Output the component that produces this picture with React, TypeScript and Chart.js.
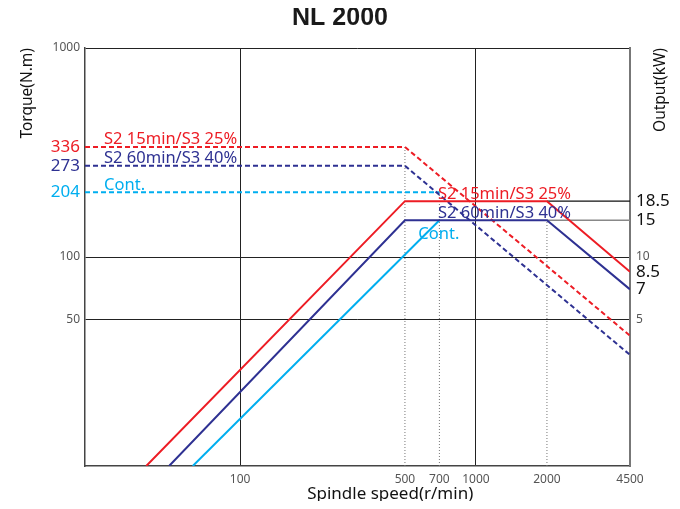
import React, { useEffect, useRef } from 'react';
import { Chart, registerables } from 'chart.js';

Chart.register(...registerables);

const RED = '#ED1C24';
const NAVY = '#2E3192';
const CYAN = '#00AEEF';
const FONT = '"Noto Sans", "DejaVu Sans", sans-serif';

// axis ticks
const speedTicks = [100, 500, 700, 1000, 2000, 4500];
const torqueTicks = [50, 100, 204, 273, 336, 1000];
const outputTicks = [5, 7, 8.5, 10, 15, 18.5];

// torque curves (N.m) vs spindle speed (r/min)
const s2_15TorqueSpeed = [22, 500, 4500];
const s2_15Torque = [336, 336, 42];
const s2_60TorqueSpeed = [22, 500, 4500];
const s2_60Torque = [273, 273, 34];
const contTorqueSpeed = [22, 700];
const contTorque = [204, 204];

// output curves (kW) vs spindle speed (r/min)
const s2_15PowerSpeed = [40, 500, 2000, 4500];
const s2_15Power = [1, 18.5, 18.5, 8.5];
const s2_60PowerSpeed = [50, 500, 2000, 4500];
const s2_60Power = [1, 15, 15, 7];
const contPowerSpeed = [63, 700];
const contPower = [1, 15];

const pts = (xs: number[], ys: number[]) => xs.map((x, i) => ({ x, y: ys[i] }));

const tickColorLeft: Record<number, string> = { 204: CYAN, 273: NAVY, 336: RED };
const bigRight = [7, 8.5, 15, 18.5];

type Lbl = { text: string; x: number; y: number; axis: string; color: string; align: CanvasTextAlign; base: CanvasTextBaseline; dy: number; size: number };
const curveLabels: Lbl[] = [
  { text: 'S2 15min/S3 25%', x: 26.5, y: 336, axis: 'y', color: RED, align: 'left', base: 'bottom', dy: 1, size: 16.5 },
  { text: 'S2 60min/S3 40%', x: 26.5, y: 273, axis: 'y', color: NAVY, align: 'left', base: 'bottom', dy: 1, size: 16.5 },
  { text: 'Cont.', x: 26.5, y: 204, axis: 'y', color: CYAN, align: 'left', base: 'bottom', dy: 1, size: 16.5 },
  { text: 'S2 15min/S3 25%', x: 690, y: 18.5, axis: 'y2', color: RED, align: 'left', base: 'bottom', dy: 1, size: 16.5 },
  { text: 'S2 60min/S3 40%', x: 690, y: 15, axis: 'y2', color: NAVY, align: 'left', base: 'bottom', dy: 1, size: 16.5 },
  { text: 'Cont.', x: 570, y: 15, axis: 'y2', color: CYAN, align: 'left', base: 'top', dy: 6, size: 16.5 },
];

const textPlugin = {
  id: 'texts',
  afterDraw(chart: any) {
    const { ctx, scales, chartArea } = chart;
    ctx.save();
    curveLabels.forEach((l) => {
      const px = scales.x.getPixelForValue(l.x);
      const py = scales[l.axis].getPixelForValue(l.y) + l.dy;
      ctx.font = `${l.size}px ${FONT}`;
      ctx.fillStyle = l.color;
      ctx.textAlign = l.align;
      ctx.textBaseline = l.base;
      ctx.fillText(l.text, px, py);
    });
    // axis titles
    ctx.fillStyle = '#111';
    ctx.font = `17px ${FONT}`;
    ctx.textAlign = 'center';
    ctx.textBaseline = 'middle';
    ctx.fillText('Spindle speed(r/min)', chartArea.left + (chartArea.right - chartArea.left) * 0.56, chart.height - 7);
    ctx.font = `15.5px ${FONT}`;
    const vtitle = (text: string, x: number) => {
      ctx.save();
      ctx.translate(x, chartArea.top);
      ctx.rotate(-Math.PI / 2);
      ctx.textAlign = 'right';
      ctx.textBaseline = 'middle';
      ctx.fillText(text, 0, 0);
      ctx.restore();
    };
    vtitle('Torque(N.m)', 20);
    vtitle('Output(kW)', chart.width - 11);
    ctx.restore();
  },
};

export default function App() {
  const ref = useRef<HTMLCanvasElement | null>(null);
  useEffect(() => {
    if (!ref.current) return;
    const line = (data: any[], color: string, axis: string, dash: number[] = [], width = 2, order = 0) => ({
      data,
      borderColor: color,
      borderWidth: width,
      borderDash: dash,
      pointRadius: 0,
      fill: false,
      tension: 0,
      yAxisID: axis,
      order,
    });
    const chart = new Chart(ref.current, {
      type: 'line',
      data: {
        datasets: [
          // reference lines
          line(pts([500, 500], [10, 336]), '#777', 'y', [1, 2], 1, 5),
          line(pts([700, 700], [10, 204]), '#777', 'y', [1, 2], 1, 5),
          line(pts([2000, 2000], [1, 15]), '#777', 'y2', [1, 2], 1, 5),
          line(pts([2000, 4500], [18.5, 18.5]), '#111', 'y2', [], 1.2, 5),
          line(pts([2000, 4500], [15, 15]), '#888', 'y2', [], 1.5, 5),
          // torque
          line(pts(s2_15TorqueSpeed, s2_15Torque), RED, 'y', [5, 3], 2, 2),
          line(pts(s2_60TorqueSpeed, s2_60Torque), NAVY, 'y', [5, 3], 2, 2),
          line(pts(contTorqueSpeed, contTorque), CYAN, 'y', [5, 3], 2, 2),
          // output
          line(pts(contPowerSpeed, contPower), CYAN, 'y2', [], 2, 1),
          line(pts(s2_60PowerSpeed, s2_60Power), NAVY, 'y2', [], 2, 0),
          line(pts(s2_15PowerSpeed, s2_15Power), RED, 'y2', [], 2, 0),
        ],
      },
      options: {
        animation: false,
        responsive: true,
        maintainAspectRatio: false,
        plugins: {
          legend: { display: false },
          tooltip: { enabled: false },
          title: {
            display: true,
            text: 'NL 2000',
            color: '#1a1a1a',
            font: { size: 25, weight: 'bold', family: '"Liberation Sans", Arial, sans-serif', lineHeight: 0.8 },
            padding: { top: 0, bottom: 20 },
          },
        },
        scales: {
          x: {
            type: 'logarithmic',
            min: 22,
            max: 4500,
            afterBuildTicks: (s: any) => {
              s.ticks = speedTicks.map((v) => ({ value: v }));
            },
            afterFit: (s: any) => {
              s.height = 35;
            },
            ticks: {
              callback: (v: any) => String(v),
              color: '#555',
              font: { size: 12, family: FONT },
              autoSkip: false,
              maxRotation: 0,
              padding: 6,
            },
            grid: {
              color: (c: any) => (c.tick && (c.tick.value === 100 || c.tick.value === 1000) ? '#222' : 'rgba(0,0,0,0)'),
              drawTicks: false,
              lineWidth: 1,
            },
            border: { color: '#444', width: 1.5 },
          },
          y: {
            type: 'logarithmic',
            position: 'left',
            min: 10,
            max: 1000,
            afterBuildTicks: (s: any) => {
              s.ticks = torqueTicks.map((v) => ({ value: v }));
            },
            afterFit: (s: any) => {
              s.width = 77;
            },
            ticks: {
              callback: (v: any) => String(v),
              color: (c: any) => tickColorLeft[c.tick?.value] || '#555',
              font: (c: any) => (tickColorLeft[c.tick?.value] ? { size: 17, family: FONT } : { size: 12, family: FONT }),
              autoSkip: false,
              padding: 5,
            },
            grid: {
              color: (c: any) => (c.tick && [50, 100, 1000].includes(c.tick.value) ? '#222' : 'rgba(0,0,0,0)'),
              drawTicks: false,
              lineWidth: 1,
            },
            border: { color: '#444', width: 1.5 },
          },
          y2: {
            type: 'logarithmic',
            position: 'right',
            min: 1,
            max: 100,
            afterBuildTicks: (s: any) => {
              s.ticks = outputTicks.map((v) => ({ value: v }));
            },
            afterFit: (s: any) => {
              s.width = 42;
            },
            ticks: {
              callback: (v: any) => String(v),
              color: (c: any) => (bigRight.includes(c.tick?.value) ? '#111' : '#555'),
              font: (c: any) => (bigRight.includes(c.tick?.value) ? { size: 17, family: FONT } : { size: 12, family: FONT }),
              autoSkip: false,
              padding: 6,
            },
            grid: { drawOnChartArea: false, drawTicks: false },
            border: { color: '#777', width: 2 },
          },
        },
      } as any,
      plugins: [textPlugin],
    });
    return () => chart.destroy();
  }, []);
  return (
    <div style={{ position: 'relative', width: '664px', height: '493px' }}>
      <canvas ref={ref} />
    </div>
  );
}
